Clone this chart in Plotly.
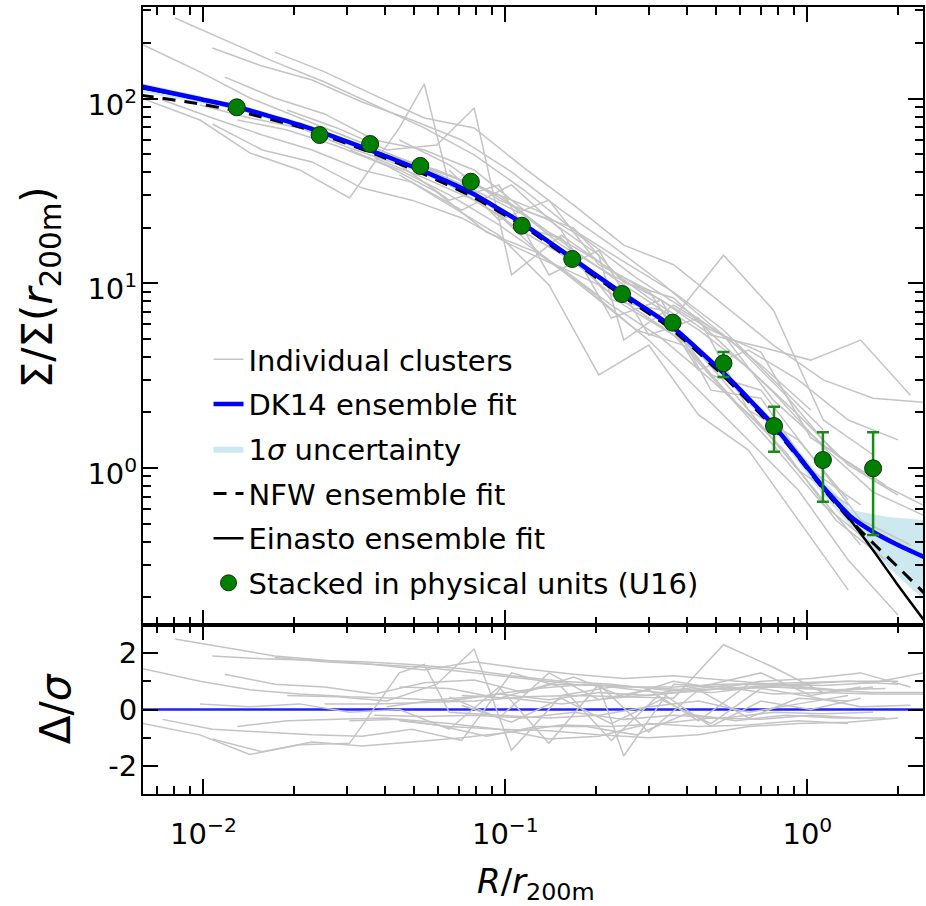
import plotly.graph_objects as go
from plotly.subplots import make_subplots

# ---------------------------------------------------------------------------
# Stacked profile in physical units (U16)
# ---------------------------------------------------------------------------
stack_r = [0.0129, 0.02425, 0.03566, 0.05227, 0.07687, 0.1133, 0.1665,
           0.2434, 0.3579, 0.5276, 0.7757, 1.126, 1.651]
stack_sigma = [89.7, 63.5, 56.8, 43.2, 35.5, 20.5, 13.54, 8.75, 6.12,
               3.69, 1.688, 1.105, 0.996]
stack_err_hi = [2.0, 1.5, 1.3, 1.0, 0.9, 0.5, 0.35, 0.25, 0.2,
                0.56, 0.459, 0.456, 0.565]
stack_err_lo = [2.0, 1.5, 1.3, 1.0, 0.9, 0.5, 0.35, 0.25, 0.2,
                0.58, 0.463, 0.448, 0.562]

# ---------------------------------------------------------------------------
# Ensemble fits
# ---------------------------------------------------------------------------
fit_r = [0.0062, 0.00974, 0.0129, 0.02083, 0.03548, 0.05227, 0.07704,
         0.1135, 0.1661, 0.2428, 0.3580, 0.5276, 0.7718, 0.9331, 1.128,
         1.396, 1.676, 1.996, 2.433]
dk14_sigma = [116.5, 99.5, 90.1, 72.0, 52.7, 41.1, 30.9, 21.2, 13.7, 8.87,
              5.80, 3.27, 1.71, 1.165, 0.789, 0.543, 0.445, 0.383, 0.330]
nfw_sigma = [104.5, 93.5, 85.7, 70.2, 51.4, 39.8, 29.7, 20.6, 13.3, 8.6,
             5.59, 3.15, 1.65, 1.14, 0.770, 0.517, 0.383, 0.291, 0.211]
einasto_sigma = [114.1, 99.5, 90.1, 72.0, 52.7, 41.1, 30.9, 21.2, 13.7, 8.87,
                 5.80, 3.27, 1.71, 1.165, 0.780, 0.517, 0.347, 0.232, 0.150]

# 1-sigma band of the DK14 fit
band_r = [0.0062, 0.0129, 0.02083, 0.03548, 0.05227, 0.07704, 0.1135, 0.1661,
          0.2428, 0.3580, 0.5276, 0.7718, 1.128, 1.396, 1.850, 2.433]
band_upper = [121.5, 93.5, 74.7, 54.7, 42.6, 32.0, 22.0, 14.2, 9.20, 6.02,
              3.44, 1.82, 0.861, 0.592, 0.543, 0.523]
band_lower = [108.6, 86.8, 69.4, 50.8, 39.6, 29.7, 20.4, 13.2, 8.54, 5.59,
              3.11, 1.61, 0.714, 0.479, 0.291, 0.193]

# ---------------------------------------------------------------------------
# Individual cluster profiles and their residuals (Delta / sigma)
# ---------------------------------------------------------------------------
c01_r = [0.00805, 0.01178, 0.01722, 0.02519, 0.03684, 0.05389, 0.07881, 0.1153, 0.1686, 0.2466, 0.3607, 0.5276, 0.7716, 1.129]
c01_sigma = [273, 208, 158, 123, 92.4, 69.4, 49.6, 32.0, 19.4, 13.1, 8.97, 5.59, 3.00, 1.61]
c01_delta = [2.5, 2.2, 1.9, 1.75, 1.6, 1.5, 1.3, 1.1, 0.9, 0.8, 0.8, 0.9, 0.9, 0.7]

c02_r = [0.01071, 0.01566, 0.02291, 0.03351, 0.04901, 0.07168, 0.1048, 0.1533, 0.2242, 0.3280, 0.4797, 0.7016, 1.026]
c02_sigma = [188, 150, 126, 95.9, 76.6, 59.7, 40.1, 24.9, 16.1, 10.1, 5.95, 3.61, 2.06]
c02_delta = [1.9, 1.8, 1.75, 1.7, 1.6, 1.45, 1.2, 1.0, 0.9, 0.7, 0.6, 0.8, 0.9]

c03_r = [0.0060, 0.00974, 0.01424, 0.02083, 0.03047, 0.04456, 0.06518, 0.09532, 0.1394, 0.2039, 0.2983, 0.4362, 0.6380, 0.9331, 1.365, 1.996]
c03_sigma = [203, 139.5, 100.8, 78.6, 61.3, 47.8, 38.1, 30.1, 18.9, 13.1, 8.33, 5.59, 3.48, 1.94, 1.04, 0.714]
c03_delta = [1.5, 1.0, 0.7, 0.55, 0.45, 0.4, 0.3, 0.55, 0.35, 0.6, 0.5, 0.7, 0.8, 0.9, 1.0, 0.9]

c04_r = [0.0060, 0.00974, 0.01424, 0.02083, 0.03047, 0.04456, 0.05389, 0.06518, 0.09532, 0.1394, 0.2039, 0.2983, 0.4362, 0.6380, 0.9331, 1.365]
c04_sigma = [103, 76.6, 50.8, 41.1, 29.0, 69.4, 120, 34.1, 23.4, 13.1, 9.80, 6.49, 4.24, 2.06, 0.975, 0.631]
c04_delta = [-0.45, -0.9, -1.6, -1.25, -1.2, 1.3, 1.6, -0.1, -0.2, -0.3, -0.2, 0.1, 0.3, -0.1, 0.2, 0.5]

c05_r = [0.01071, 0.01566, 0.02291, 0.03351, 0.04901, 0.07168, 0.1048, 0.1533, 0.2242, 0.3280, 0.4797, 0.7016, 1.026, 1.501]
c05_sigma = [72.9, 52.7, 45.4, 32.8, 28.2, 22.6, 16.1, 12.1, 7.63, 5.06, 3.00, 1.71, 0.809, 0.383]
c05_delta = [-1.05, -1.5, -1.15, -1.3, -1.15, -1.0, -0.8, -0.55, -0.6, -0.5, -0.3, -0.35, -0.2, -0.3]

c06_r = [0.01178, 0.01722, 0.02519, 0.03684, 0.05389, 0.07881, 0.1153, 0.1686, 0.2466, 0.3607, 0.5276, 0.7716, 1.129, 1.651, 2.414]
c06_sigma = [130.7, 100.8, 82.6, 59.7, 52.7, 41.1, 24.9, 19.9, 10.1, 8.33, 4.63, 2.57, 1.30, 0.741, 0.557]
c06_delta = [1.25, 0.9, 0.8, 0.55, 0.95, 1.05, 0.6, 1.15, 0.45, 1.0, 0.7, 0.8, 0.7, 0.6, 0.6]

c07_r = [0.01296, 0.01894, 0.02771, 0.04052, 0.05927, 0.08668, 0.1268, 0.1854, 0.2712, 0.3966, 0.5801, 0.8486, 1.241, 1.815]
c07_sigma = [76.6, 67.6, 55.4, 43.3, 31.2, 18.9, 14.7, 9.44, 5.59, 4.57, 2.27, 1.22, 0.523, 0.318]
c07_delta = [-0.6, -0.4, -0.35, -0.3, -0.55, -0.95, -0.6, -0.6, -0.9, -0.15, -0.4, -0.2, -0.3, -0.3]

c08_r = [0.01722, 0.02519, 0.03684, 0.05389, 0.07881, 0.1153, 0.1686, 0.2466, 0.3607, 0.5276, 0.7716, 1.129, 1.651, 2.414]
c08_sigma = [178.5, 139.5, 104.5, 78.6, 69.4, 42.2, 26.5, 16.1, 12.6, 7.63, 4.63, 3.00, 2.39, 2.27]
c08_delta = [1.85, 1.7, 1.6, 1.4, 1.7, 1.45, 1.25, 1.1, 1.2, 1.05, 0.9, 0.85, 0.95, 1.3]

c09_r = [0.00974, 0.01424, 0.02083, 0.03047, 0.04456, 0.06518, 0.09532, 0.1394, 0.2039, 0.2983, 0.4362, 0.6380, 0.9331, 1.365]
c09_sigma = [92.4, 78.6, 69.4, 54.0, 43.8, 28.2, 34.1, 11.1, 15.1, 5.25, 6.49, 2.06, 1.42, 0.671]
c09_delta = [0.2, 0.1, 0.2, -0.1, 0.0, -0.7, 0.8, -1.2, 0.9, -0.8, 0.7, -0.3, 0.4, 0.3]

c10_r = [0.00732, 0.01071, 0.01566, 0.02291, 0.03351, 0.04901, 0.07168, 0.1048, 0.1533, 0.2242, 0.3280, 0.4797, 0.7016, 1.026, 1.501]
c10_sigma = [98.3, 78.6, 63.6, 52.7, 41.1, 35.3, 24.9, 34.1, 19.4, 6.49, 8.12, 2.64, 2.39, 0.975, 0.631]
c10_delta = [-0.35, -0.7, -0.8, -0.9, -0.95, -0.7, -1.1, 1.3, 0.8, -1.1, 0.6, -0.6, 0.3, 0.0, 0.4]

c11_r = [0.01894, 0.02771, 0.04052, 0.05927, 0.07881, 0.1048, 0.1533, 0.2242, 0.3280, 0.4797, 0.7016, 1.026, 1.501]
c11_sigma = [86.8, 69.4, 52.7, 56.1, 89.0, 11.1, 18.2, 11.8, 8.12, 5.59, 4.24, 1.46, 0.975]
c11_delta = [0.5, 0.45, 0.3, 0.9, 2.15, -1.45, 0.5, 0.8, 0.6, 0.9, 1.3, 0.5, 0.8]

c12_r = [0.02519, 0.03684, 0.05389, 0.07881, 0.1153, 0.1686, 0.2466, 0.3607, 0.5276, 0.7716, 1.129, 1.651]
c12_sigma = [69.4, 54.0, 42.2, 32.0, 23.4, 15.1, 9.80, 6.49, 14.2, 7.17, 1.82, 1.18]
c12_delta = [0.2, 0.2, 0.25, 0.3, 0.45, 0.5, 0.45, 0.4, 2.3, 1.5, 0.6, 0.8]

c13_r = [0.03047, 0.04456, 0.06518, 0.09532, 0.1394, 0.2039, 0.2983, 0.4362, 0.6380, 0.9331, 1.365, 1.996]
c13_sigma = [52.7, 41.1, 30.1, 20.7, 13.4, 8.12, 4.93, 2.64, 1.42, 0.760, 0.318, 0.160]
c13_delta = [-0.4, -0.35, -0.5, -0.7, -0.75, -0.9, -1.0, -0.9, -0.6, -0.5, -0.45, -0.3]

c14_r = [0.04456, 0.06518, 0.09532, 0.1394, 0.2039, 0.2466, 0.3607, 0.5276, 0.7716, 1.129, 1.651, 2.414]
c14_sigma = [59.7, 43.8, 28.2, 22.0, 14.2, 4.93, 7.63, 5.25, 2.33, 1.33, 0.861, 0.631]
c14_delta = [0.8, 0.75, 0.4, 0.9, 0.85, -1.65, 0.9, 0.8, 0.55, 0.6, 0.55, 0.55]

c15_r = [0.06518, 0.09532, 0.1394, 0.2039, 0.2983, 0.4362, 0.6380, 0.9331, 1.365, 1.996]
c15_sigma = [41.1, 22.0, 28.2, 12.6, 9.20, 3.39, 4.35, 3.00, 1.82, 1.42]
c15_delta = [0.45, -0.3, 1.3, 0.35, 0.7, -0.4, 0.9, 0.95, 1.0, 1.0]

c16_r = [0.04456, 0.06518, 0.09532, 0.1394, 0.2039, 0.2983, 0.4362, 0.6380, 0.9331, 1.365]
c16_sigma = [38.6, 26.5, 18.2, 9.80, 3.19, 4.63, 1.94, 1.25, 0.523, 0.219]
c16_delta = [-0.4, -0.6, -0.7, -1.05, -0.95, -0.5, -0.6, -0.55, -0.4, -0.5]

c17_r = [0.03684, 0.05389, 0.07881, 0.1153, 0.1686, 0.2466, 0.3607, 0.5276, 0.7716, 1.129, 1.651]
c17_sigma = [47.8, 37.2, 28.2, 18.9, 13.1, 7.63, 5.25, 2.64, 1.33, 0.631, 0.383]
c17_delta = [-0.2, -0.25, -0.2, -0.3, -0.1, -0.35, -0.2, -0.3, -0.1, -0.15, -0.1]

c18_r = [0.04052, 0.05927, 0.08668, 0.1268, 0.1854, 0.2712, 0.3966, 0.5801, 0.8486, 1.241, 1.815]
c18_sigma = [49.6, 41.1, 32.0, 24.9, 17.2, 10.7, 7.17, 4.63, 2.48, 1.18, 0.809]
c18_delta = [0.1, 0.35, 0.5, 0.75, 0.9, 0.8, 0.7, 0.9, 0.85, 0.7, 0.75]

c19_r = [0.07168, 0.1048, 0.1533, 0.2242, 0.3280, 0.4797, 0.7016, 1.026, 1.501, 2.195]
c19_sigma = [38.6, 26.5, 16.1, 11.1, 8.12, 5.25, 4.52, 3.84, 4.93, 2.48]
c19_delta = [0.5, 0.4, 0.2, 0.4, 0.55, 0.7, 1.0, 1.1, 1.3, 0.8]

c20_r = [0.07168, 0.1048, 0.1533, 0.2242, 0.3280, 0.4797, 0.7016, 1.026, 1.501, 2.195]
c20_sigma = [36.2, 20.7, 17.6, 8.12, 7.17, 3.19, 2.64, 1.18, 0.523, 0.383]
c20_delta = [0.15, -0.45, 0.4, -0.5, 0.35, -0.5, 0.75, 0.45, 0.1, 0.15]

clusters = [
    (c01_r, c01_sigma, c01_delta), (c02_r, c02_sigma, c02_delta),
    (c03_r, c03_sigma, c03_delta), (c04_r, c04_sigma, c04_delta),
    (c05_r, c05_sigma, c05_delta), (c06_r, c06_sigma, c06_delta),
    (c07_r, c07_sigma, c07_delta), (c08_r, c08_sigma, c08_delta),
    (c09_r, c09_sigma, c09_delta), (c10_r, c10_sigma, c10_delta),
    (c11_r, c11_sigma, c11_delta), (c12_r, c12_sigma, c12_delta),
    (c13_r, c13_sigma, c13_delta), (c14_r, c14_sigma, c14_delta),
    (c15_r, c15_sigma, c15_delta), (c16_r, c16_sigma, c16_delta),
    (c17_r, c17_sigma, c17_delta), (c18_r, c18_sigma, c18_delta),
    (c19_r, c19_sigma, c19_delta), (c20_r, c20_sigma, c20_delta),
]

# residual reference line
zero_r = [0.005, 3.0]
zero_delta = [0.0, 0.0]

# axis ticks
x_major = [0.01, 0.1, 1.0]
x_major_text = ["10<sup>\u22122</sup>", "10<sup>\u22121</sup>", "10<sup>0</sup>"]
x_minor = [0.007, 0.008, 0.009, 0.02, 0.03, 0.04, 0.05, 0.06, 0.07, 0.08, 0.09,
           0.2, 0.3, 0.4, 0.5, 0.6, 0.7, 0.8, 0.9, 2.0]
y_major = [1.0, 10.0, 100.0]
y_major_text = ["10<sup>0</sup>", "10<sup>1</sup>", "10<sup>2</sup>"]
y_minor = [0.2, 0.3, 0.4, 0.5, 0.6, 0.7, 0.8, 0.9, 2, 3, 4, 5, 6, 7, 8, 9,
           20, 30, 40, 50, 60, 70, 80, 90, 200, 300]
res_major = [-2, 0, 2]
res_major_text = ["-2", "0", "2"]
res_minor = [-1, 1]

FONT = "DejaVu Sans"
GREY = "#c4c4c4"

fig = make_subplots(rows=2, cols=1, shared_xaxes=True, vertical_spacing=0,
                    row_heights=[0.7853, 0.2147])

# uncertainty band
fig.add_trace(go.Scatter(
    x=band_r + band_r[::-1], y=band_upper + band_lower[::-1],
    fill="toself", fillcolor="rgba(173,216,230,0.6)",
    line=dict(width=0), mode="lines",
    name="1<i>\u03c3</i> uncertainty", legendgroup="g3", legendrank=3,
    hoverinfo="skip"), row=1, col=1)

# individual clusters
for i, (r, s, d) in enumerate(clusters):
    fig.add_trace(go.Scatter(
        x=r, y=s, mode="lines", line=dict(color=GREY, width=1.5),
        name="Individual clusters", legendgroup="g1", legendrank=1,
        showlegend=(i == 0)), row=1, col=1)

fig.add_trace(go.Scatter(
    x=fit_r, y=einasto_sigma, mode="lines",
    line=dict(color="black", width=2.5, shape="spline", smoothing=0.5),
    name="Einasto ensemble fit", legendgroup="g5", legendrank=5), row=1, col=1)

fig.add_trace(go.Scatter(
    x=fit_r, y=nfw_sigma, mode="lines",
    line=dict(color="black", width=3, dash="13px,9px", shape="spline", smoothing=0.5),
    name="NFW ensemble fit", legendgroup="g4", legendrank=4), row=1, col=1)

fig.add_trace(go.Scatter(
    x=fit_r, y=dk14_sigma, mode="lines",
    line=dict(color="#0000ff", width=4.5, shape="spline", smoothing=0.5),
    name="DK14 ensemble fit", legendgroup="g2", legendrank=2), row=1, col=1)

fig.add_trace(go.Scatter(
    x=stack_r, y=stack_sigma, mode="markers",
    marker=dict(color="#007f00", size=17, line=dict(color="#0a330a", width=1)),
    error_y=dict(type="data", symmetric=False, array=stack_err_hi,
                 arrayminus=stack_err_lo, color="#1a8a1a", thickness=2.5, width=6),
    name="Stacked in physical units (U16)", legendgroup="g6", legendrank=6),
    row=1, col=1)

# residual panel
fig.add_trace(go.Scatter(
    x=zero_r, y=zero_delta, mode="lines", line=dict(color="#2020ff", width=2.5),
    showlegend=False), row=2, col=1)
for r, s, d in clusters:
    fig.add_trace(go.Scatter(
        x=r, y=d, mode="lines", line=dict(color=GREY, width=1.5),
        showlegend=False), row=2, col=1)

tickfont = dict(family=FONT, size=29, color="black")
axis_common = dict(
    showline=True, linecolor="black", linewidth=2, mirror="allticks",
    ticks="inside", ticklen=15, tickwidth=2, tickcolor="black",
    showgrid=False, zeroline=False, tickfont=tickfont,
)
minor_common = dict(ticks="inside", ticklen=8, tickwidth=1.5, tickcolor="black",
                    showgrid=False, tickmode="array")

fig.update_xaxes(type="log", range=[-2.2, 0.383], tickmode="array",
                 tickvals=x_major, ticktext=x_major_text,
                 minor=dict(tickvals=x_minor, **minor_common), **axis_common)
fig.update_xaxes(showticklabels=False, row=1, col=1)
fig.update_xaxes(showticklabels=True, ticklabelstandoff=13, row=2, col=1)

fig.update_yaxes(type="log", range=[-0.85, 2.496], tickmode="array",
                 tickvals=y_major, ticktext=y_major_text,
                 minor=dict(tickvals=y_minor, **minor_common),
                 ticklabelstandoff=-2, ticklabelshift=6, row=1, col=1, **axis_common)
fig.update_yaxes(range=[-3, 3], tickmode="array", tickvals=res_major,
                 ticktext=res_major_text,
                 minor=dict(tickvals=res_minor, **minor_common),
                 ticklabelstandoff=-2, row=2, col=1, **axis_common)

# axis titles
fig.add_annotation(text="\u03a3/\u03a3(<i>r</i><sub>200m</sub>)", textangle=-90,
                   xref="paper", yref="paper", x=-0.1317, y=0.6442,
                   xanchor="center", yanchor="middle", showarrow=False,
                   font=dict(family=FONT, size=42, color="black"))
fig.add_annotation(text="\u0394/<i>\u03c3</i>", textangle=-90,
                   xref="paper", yref="paper", x=-0.1125, y=0.108,
                   xanchor="center", yanchor="middle", showarrow=False,
                   font=dict(family=FONT, size=42, color="black"))
fig.add_annotation(text="<i>R</i>/<i>r</i><sub>200m</sub>",
                   xref="paper", yref="paper", x=0.504, y=-0.083,
                   xanchor="center", yanchor="top", showarrow=False,
                   font=dict(family=FONT, size=34, color="black"))

fig.update_layout(
    width=926, height=906,
    margin=dict(l=143, r=1, t=7, b=112),
    paper_bgcolor="white", plot_bgcolor="white",
    font=dict(family=FONT, size=29, color="black"),
    showlegend=True,
    legend=dict(x=0.084, y=0.5845, xanchor="left", yanchor="top",
                bgcolor="rgba(0,0,0,0)", borderwidth=0,
                font=dict(family=FONT, size=29, color="black"),
                tracegroupgap=4, traceorder="grouped"),
)

fig.write_html("out.html")
